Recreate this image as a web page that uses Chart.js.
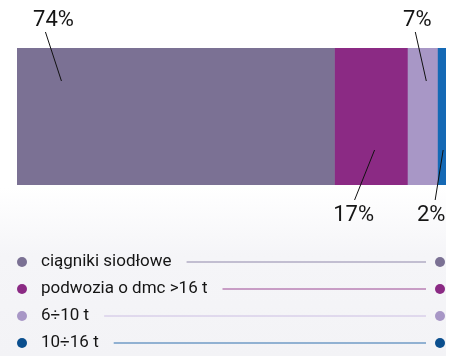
<!DOCTYPE html>
<html>
<head>
<meta charset="utf-8">
<script src="https://cdn.jsdelivr.net/npm/chart.js@4/dist/chart.umd.min.js"></script>
<style>
  html, body { margin: 0; padding: 0; background: #fff; }
  #wrap { width: 459px; height: 356px; }
</style>
</head>
<body>
<div id="wrap"><canvas id="bcBar" width="459" height="356"></canvas></div>
<script>
// truck registrations by type, share in %
let labels = ["ciągniki siodłowe", "podwozia o dmc >16 t", "6÷10 t", "10÷16 t"];
let shares = [74, 17, 7, 2];

let barColors = ["#7b7194", "#8b2a84", "#a897c6", "#1569b5"];
let dotColors = ["#7b7194", "#8b2a84", "#a897c6", "#0b4f8e"];
let lineColors = ["#9088aa", "#9b4693", "#cbbde3", "#709bc6"];

// where the callout line touches the segment (fraction of its width), and label side
let calloutAt = [0.14, 0.55, 0.63, 0.67];
let calloutSide = ["top", "bottom", "top", "bottom"];
let calloutShift = [-16, -20, -11, -8]; // outer end of the line, relative to inner point
let labelNudge = [8, -1, 2, -4];        // text centre, relative to outer end

var ctx = document.getElementById("bcBar").getContext("2d");

const backdrop = {
  id: "backdrop",
  beforeDraw(chart) {
    const c = chart.ctx;
    c.save();
    c.fillStyle = "#ffffff";
    c.fillRect(0, 0, chart.width, chart.height);
    const g = c.createLinearGradient(0, 188, 0, chart.height);
    g.addColorStop(0, "rgba(245,245,248,0)");
    g.addColorStop(0.4, "rgba(245,245,248,1)");
    g.addColorStop(1, "#f3f3f6");
    c.fillStyle = g;
    c.fillRect(0, 188, 446, chart.height - 188);
    c.restore();
  }
};

const callouts = {
  id: "callouts",
  afterDatasetsDraw(chart) {
    const c = chart.ctx;
    const area = chart.chartArea;
    c.save();
    c.strokeStyle = "#111";
    c.lineWidth = 1;
    c.fillStyle = "#151515";
    c.font = "22px Roboto";
    c.textAlign = "center";
    chart.data.datasets.forEach((ds, i) => {
      const bar = chart.getDatasetMeta(i).data[0];
      const x0 = bar.base, x1 = bar.x;
      const ix = x0 + (x1 - x0) * calloutAt[i];
      const ox = ix + calloutShift[i];
      let iy, oy, ty;
      if (calloutSide[i] === "top") {
        iy = area.top + 33; oy = area.top - 16; ty = 26;
      } else {
        iy = area.bottom - 35; oy = area.bottom + 15; ty = 221;
      }
      c.beginPath();
      c.moveTo(ix, iy);
      c.lineTo(ox, oy);
      c.stroke();
      c.fillText(ds.data[0] + "%", ox + labelNudge[i], ty);
    });
    c.restore();
  }
};

const lineLegend = {
  id: "lineLegend",
  afterDraw(chart) {
    const c = chart.ctx;
    c.save();
    c.font = "17px Roboto";
    c.textBaseline = "middle";
    labels.forEach((name, i) => {
      const y = 262 + i * 27;
      c.fillStyle = dotColors[i];
      c.beginPath(); c.arc(22, y, 5, 0, Math.PI * 2); c.fill();
      c.beginPath(); c.arc(440, y, 5, 0, Math.PI * 2); c.fill();
      c.fillStyle = "#151515";
      c.fillText(name, 41, y);
      const w = c.measureText(name).width;
      c.strokeStyle = lineColors[i];
      c.lineWidth = i === 3 ? 1.6 : 1.2;
      c.beginPath();
      c.moveTo(41 + w + 15, y);
      c.lineTo(426, y);
      c.stroke();
    });
    c.restore();
  }
};

window.bcBar = new Chart(ctx, {
  type: "bar",
  data: {
    labels: [""],
    datasets: labels.map((name, i) => ({
      label: name,
      data: [shares[i]],
      backgroundColor: barColors[i],
      borderWidth: 0,
      barPercentage: 1,
      categoryPercentage: 1
    }))
  },
  options: {
    indexAxis: "y",
    responsive: false,
    animation: false,
    layout: { padding: { left: 17, right: 13, top: 48, bottom: 171 } },
    scales: {
      x: { stacked: true, min: 0, max: 100, display: false },
      y: { stacked: true, display: false }
    },
    plugins: {
      legend: { display: false },
      tooltip: { enabled: false }
    }
  },
  plugins: [backdrop, callouts, lineLegend]
});
</script>
</body>
</html>
